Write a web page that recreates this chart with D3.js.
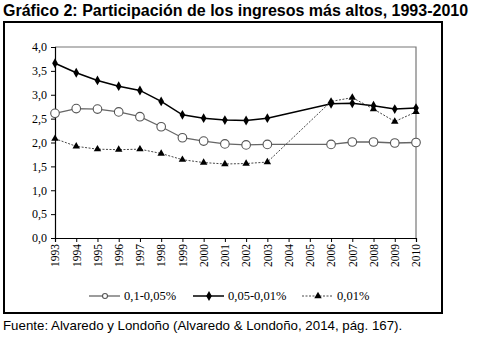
<!DOCTYPE html>
<html>
<head>
<meta charset="utf-8">
<script src="https://cdn.jsdelivr.net/npm/d3@7"></script>
<style>
  body { margin: 0; background: #fff; }
  svg text { fill: #000; }
</style>
</head>
<body>
<div id="chart"></div>
<script>
// years and the three income shares (%)
var years = [1993, 1994, 1995, 1996, 1997, 1998, 1999, 2000, 2001, 2002, 2003, 2004, 2005, 2006, 2007, 2008, 2009, 2010];
var share01to005 = [2.61, 2.71, 2.70, 2.64, 2.54, 2.33, 2.10, 2.03, 1.97, 1.95, 1.96, null, null, 1.96, 2.01, 2.01, 1.99, 2.00];
var share005to001 = [3.66, 3.46, 3.30, 3.18, 3.09, 2.86, 2.58, 2.51, 2.47, 2.46, 2.51, null, null, 2.81, 2.82, 2.77, 2.70, 2.72];
var share001 = [2.08, 1.92, 1.86, 1.85, 1.86, 1.77, 1.64, 1.58, 1.55, 1.56, 1.59, null, null, 2.86, 2.94, 2.70, 2.44, 2.64];
var yTicks = [0, 0.5, 1, 1.5, 2, 2.5, 3, 3.5, 4];
var seriesNames = ['0,1-0,05%', '0,05-0,01%', '0,01%'];

var width = 477, height = 339;
var plot = { left: 55, right: 416, top: 47, bottom: 238 };
var comma = function (v) { return d3.format('.1f')(v).replace('.', ','); };

var svg = d3.select('#chart').append('svg')
    .attr('width', width)
    .attr('height', height);

svg.append('text')
    .attr('x', 3)
    .attr('y', 16)
    .style('font-family', '"Liberation Sans", Arial, sans-serif')
    .style('font-size', '16px')
    .style('font-weight', 'bold')
    .text('Gráfico 2: Participación de los ingresos más altos, 1993-2010');

// outer frame
svg.append('rect')
    .attr('x', 4)
    .attr('y', 22)
    .attr('width', 438)
    .attr('height', 291)
    .attr('fill', 'none')
    .attr('stroke', '#000')
    .attr('stroke-width', 2);

var x = d3.scalePoint().domain(years).range([plot.left, plot.right]);
var y = d3.scaleLinear().domain([0, 4]).range([plot.bottom, plot.top]);

// gray box on top and right of plot area
svg.append('path')
    .attr('d', 'M' + plot.left + ',' + y(4) + 'H' + x(2010) + 'V' + y(0))
    .attr('fill', 'none')
    .attr('stroke', '#777')
    .attr('stroke-width', 1.2);

var serif = '"Liberation Serif", "Times New Roman", serif';

var yAxis = svg.append('g')
    .attr('transform', 'translate(' + plot.left + ',0)')
    .call(d3.axisLeft(y).tickValues(yTicks).tickFormat(comma).tickSizeOuter(0).tickSize(4).tickPadding(4));
yAxis.select('.domain').attr('stroke-width', 1.2);
yAxis.selectAll('text')
    .style('font-family', serif)
    .style('font-size', '12px')
    .attr('fill', '#333');

var xAxis = svg.append('g')
    .attr('transform', 'translate(0,' + plot.bottom + ')')
    .call(d3.axisBottom(x).tickSizeOuter(0).tickSize(4).tickFormat(d3.format('d')));
xAxis.select('.domain').attr('stroke-width', 1.2);
xAxis.selectAll('text')
    .style('font-family', serif)
    .style('font-size', '11.5px')
    .attr('fill', '#333')
    .attr('transform', 'rotate(-90)')
    .attr('text-anchor', 'end')
    .attr('x', -6)
    .attr('y', 0)
    .attr('dy', '0.33em');

function points(values) {
    return years.map(function (yr, i) { return { year: yr, value: values[i] }; })
        .filter(function (d) { return d.value !== null; });
}

var line = d3.line()
    .x(function (d) { return x(d.year); })
    .y(function (d) { return y(d.value); });

var diamond = d3.symbol().type(d3.symbolDiamond).size(28);
var triangle = d3.symbol().type(d3.symbolTriangle).size(24);

function drawSeries(values, style) {
    var data = points(values);
    svg.append('path')
        .datum(data)
        .attr('d', line)
        .attr('fill', 'none')
        .attr('stroke', style.color)
        .attr('stroke-width', style.width)
        .attr('stroke-dasharray', style.dash || null);
    var marks = svg.append('g');
    data.forEach(function (d) {
        style.marker(marks, x(d.year), y(d.value));
    });
}

function circleMarker(g, cx, cy, r) {
    g.append('circle')
        .attr('cx', cx).attr('cy', cy).attr('r', r || 4.3)
        .attr('fill', '#fff')
        .attr('stroke', '#555')
        .attr('stroke-width', 1.1);
}
function diamondMarker(g, cx, cy) {
    g.append('path').attr('d', diamond)
        .attr('transform', 'translate(' + cx + ',' + cy + ')')
        .attr('fill', '#000');
}
function triangleMarker(g, cx, cy) {
    g.append('path').attr('d', triangle)
        .attr('transform', 'translate(' + cx + ',' + cy + ')')
        .attr('fill', '#000');
}

var styles = [
    { color: '#666', width: 1.3, marker: circleMarker },
    { color: '#000', width: 1.5, marker: diamondMarker },
    { color: '#333', width: 0.9, dash: '2,1.5', marker: triangleMarker }
];

drawSeries(share01to005, styles[0]);
drawSeries(share005to001, styles[1]);
drawSeries(share001, styles[2]);

// legend
var legend = svg.append('g').attr('transform', 'translate(0,296)');
var legendX = [89, 193, 302];
seriesNames.forEach(function (name, i) {
    var lx = legendX[i];
    legend.append('line')
        .attr('x1', lx).attr('x2', lx + 31)
        .attr('y1', 0).attr('y2', 0)
        .attr('stroke', styles[i].color)
        .attr('stroke-width', styles[i].width)
        .attr('stroke-dasharray', styles[i].dash || null);
    if (i === 0) circleMarker(legend, lx + 16, 0, 2.5);
    else styles[i].marker(legend, lx + 16, 0);
    legend.append('text')
        .attr('x', lx + 35)
        .attr('y', 4)
        .style('font-family', serif)
        .style('font-size', '12.5px')
        .attr('fill', '#333')
        .text(name);
});

svg.append('text')
    .attr('x', 3)
    .attr('y', 330)
    .style('font-family', '"Liberation Sans", Arial, sans-serif')
    .style('font-size', '13.3px')
    .text('Fuente: Alvaredo y Londoño (Alvaredo & Londoño, 2014, pág. 167).');
</script>
</body>
</html>
